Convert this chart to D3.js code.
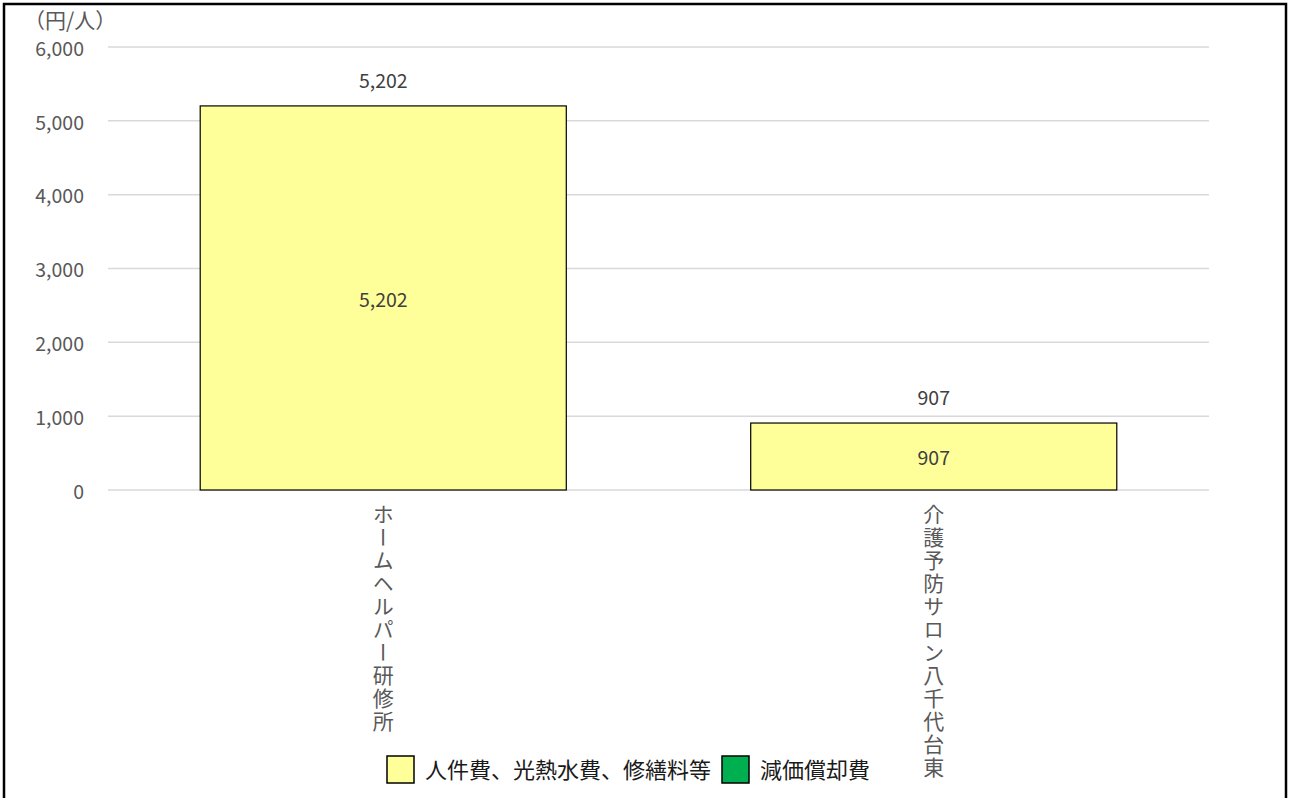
<!DOCTYPE html>
<html><head><meta charset="utf-8">
<script src="https://cdn.jsdelivr.net/npm/d3@7"></script>
<style>
body{margin:0;background:#fff;}
svg{display:block;}
text{font-family:"Noto Sans CJK JP","Noto Sans",sans-serif;}
</style></head><body>
<svg id="c" width="1289" height="798"></svg>
<script>
const categories = ["ホームヘルパー研修所", "介護予防サロン八千代台東"];
const seriesNames = ["人件費、光熱水費、修繕料等", "減価償却費"];
const personnelValues = [5202, 907];
const depreciationValues = [0, 0];
const totals = [5202, 907];
const yTicks = [0, 1000, 2000, 3000, 4000, 5000, 6000];
const colors = ["#FFFF99", "#00B050"];
const unitLabel = "（円/人）";

(function(){
const svg = d3.select("#c");
svg.append("rect").attr("x",4).attr("y",4).attr("width",1282).attr("height",820)
  .attr("fill","#fff").attr("stroke","#000").attr("stroke-width",2.5);

const pl=108, pr=1209, pt=47, pb=490;
const x = d3.scaleBand().domain(categories).range([pl,pr]).paddingInner(0.335).paddingOuter(0.1675);
const y = d3.scaleLinear().domain([0,6000]).range([pb,pt]);

svg.append("g").selectAll("line").data(yTicks).join("line")
  .attr("x1",pl).attr("x2",pr).attr("y1",d=>y(d)).attr("y2",d=>y(d))
  .attr("stroke","#d9d9d9").attr("stroke-width",1.5);

const yAxis = d3.axisLeft(y).tickValues(yTicks).tickSize(0).tickPadding(0).tickFormat(d3.format(","));
const ya = svg.append("g").attr("transform",`translate(84,2)`).call(yAxis);
ya.select(".domain").remove();
ya.selectAll("text").attr("font-size",19.5).attr("fill","#595959").attr("font-family","'Open Sans','Noto Sans',sans-serif");

const stackData = categories.map((c,i)=>({cat:c, p:personnelValues[i], d:depreciationValues[i]}));
const stack = d3.stack().keys(["p","d"])(stackData);
svg.append("g").selectAll("g").data(stack).join("g")
  .attr("fill",(d,i)=>colors[i])
  .selectAll("rect").data(d=>d.filter(v=>v[1]-v[0]>0)).join("rect")
  .attr("x",d=>x(d.data.cat)).attr("width",x.bandwidth())
  .attr("y",d=>y(d[1])).attr("height",d=>y(d[0])-y(d[1]))
  .attr("stroke","#000").attr("stroke-width",1.2);

svg.append("g").selectAll("text").data(stackData).join("text")
  .attr("x",d=>x(d.cat)+x.bandwidth()/2).attr("y",d=>(y(0)+y(d.p))/2+2)
  .attr("dy","0.35em").attr("text-anchor","middle")
  .attr("font-size",19.5).attr("fill","#404040").attr("font-family","'Open Sans','Noto Sans',sans-serif")
  .text(d=>d3.format(",")(d.p));

svg.append("g").selectAll("text").data(totals).join("text")
  .attr("x",(d,i)=>x(categories[i])+x.bandwidth()/2).attr("y",d=>y(d)-25)
  .attr("dy","0.35em").attr("text-anchor","middle")
  .attr("font-size",19.5).attr("fill","#404040").attr("font-family","'Open Sans','Noto Sans',sans-serif")
  .text(d=>d3.format(",")(d));

svg.append("g").selectAll("text").data(categories).join("text")
  .attr("transform",d=>`translate(${x(d)+x.bandwidth()/2},504)`)
  .attr("writing-mode","vertical-rl").attr("text-orientation","upright")
  .attr("font-size",21).attr("fill","#595959").attr("letter-spacing",2)
  .text(d=>d);

svg.append("text").attr("x",24).attr("y",28).attr("font-size",21).attr("fill","#595959").text(unitLabel);

const legX=[387,722];
const lg = svg.append("g").selectAll("g").data(seriesNames).join("g")
  .attr("transform",(d,i)=>`translate(${legX[i]},756)`);
lg.append("rect").attr("width",27).attr("height",27).attr("fill",(d,i)=>colors[i]).attr("stroke","#000").attr("stroke-width",1.5);
lg.append("text").attr("x",38).attr("y",14).attr("dy","0.35em").attr("font-size",22).attr("fill","#1a1a1a").text(d=>d);
})();
</script>
</body></html>
